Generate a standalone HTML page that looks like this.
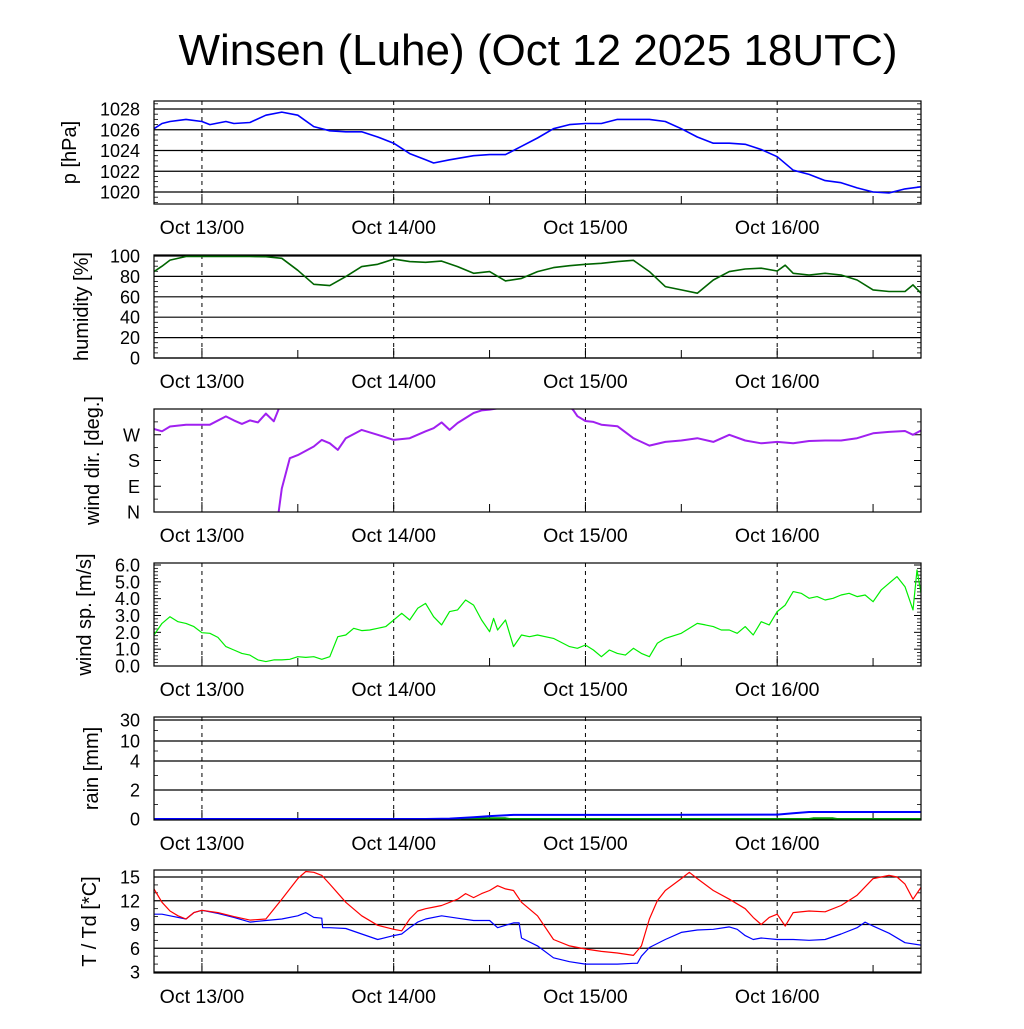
<!DOCTYPE html>
<html><head><meta charset="utf-8"><style>
body{margin:0;background:#fff;}
svg text{font-family:"Liberation Sans",sans-serif;}
</style></head><body>
<svg id="c" width="1024" height="1024" viewBox="0 0 1024 1024" xmlns="http://www.w3.org/2000/svg">
<text x="538" y="65" font-size="44" text-anchor="middle">Winsen (Luhe) (Oct 12 2025 18UTC)</text>
</svg>
<script>
// hours since Oct 12 18UTC
const dayTicks=[6,30,54,78];
const dayLabels=["Oct 13/00","Oct 14/00","Oct 15/00","Oct 16/00"];
const pH=[0,1,2,4,6,7,9,10,12,14,16,18,20,22,24,26,28,30,32,34,35,37,40,42,44,46,48,50,52,54,56,58,60,62,64,66,68,70,72,74,76,78,80,82,84,86,88,90,92,94,96];
const pV=[1026.1,1026.6,1026.8,1027.0,1026.8,1026.5,1026.8,1026.6,1026.7,1027.4,1027.7,1027.4,1026.3,1025.9,1025.8,1025.8,1025.3,1024.7,1023.7,1023.1,1022.8,1023.1,1023.5,1023.6,1023.6,1024.4,1025.2,1026.1,1026.5,1026.6,1026.6,1027.0,1027.0,1027.0,1026.8,1026.1,1025.3,1024.7,1024.7,1024.6,1024.1,1023.4,1022.1,1021.7,1021.1,1020.9,1020.4,1020.0,1019.9,1020.3,1020.5];
const rhH=[0,1,2,4,6,8,10,12,14,16,18,20,22,24,26,28,30,32,34,36,38,40,42,44,46,48,50,52,54,56,58,60,62,64,66,68,70,72,74,76,78,79,80,82,84,86,88,90,92,94,95,96];
const rhV=[84.7,90,96,99.5,99.6,99.6,99.6,99.5,99.3,97.7,86,72.3,71,79.8,89.6,91.9,97,94.5,93.8,95,89.6,83,84.7,75.6,78,84.7,88.6,90.5,91.9,92.8,94.5,95.8,84.7,70,66.8,63.5,76.5,84.7,87.3,88,85.3,91,83,81.4,83,81.4,76.5,66.8,65.2,65.2,71.7,63.5];
const ddH=[0,1,2,4,6,7,9,10,11,12,13,14,15,15.6,16,17,18,20,21,22,23,24,26,28,30,32,34,35,36,37,38,40,41,42,43,45,46.5,49,51,52,52.5,53,54,55,56,58,60,62,64,66,68,70,72,74,76,78,80,82,84,86,88,90,92,94,95,96];
const ddV=[290,282,299,305,305,305,334,320,308,320,313,344,317,359,82,188,199,229,252,240,217,258,287,270,252,258,282,293,313,287,311,346,355,358,2,17,12,35,37,10,355,335,318,315,305,300,258,232,245,250,258,245,270,250,240,245,240,248,250,250,258,275,280,283,270,285];
const ffH=[0,1,2,3,4,5,6,7,8,9,10,11,12,13,14,15,16,17,18,19,20,21,22,23,24,25,26,27,28,29,30,31,32,33,34,35,36,37,38,39,40,41,42,42.5,43,44,45,46,47,48,50,52,53,54,55,56,57,58,59,60,61,62,63,64,66,68,69,70,71,72,73,74,75,76,77,78,79,80,81,82,83,84,85,86,87,88,89,90,91,92,93,94,95,95.5,96];
const ffV=[1.84,2.53,2.93,2.63,2.53,2.34,1.98,1.94,1.70,1.15,0.95,0.75,0.65,0.36,0.26,0.36,0.36,0.40,0.55,0.51,0.55,0.40,0.55,1.74,1.84,2.24,2.10,2.14,2.24,2.34,2.73,3.13,2.73,3.43,3.72,2.93,2.44,3.23,3.33,3.92,3.62,2.73,2.04,2.83,2.14,2.73,1.15,1.84,1.74,1.84,1.64,1.15,1.05,1.25,0.95,0.55,0.95,0.75,0.65,1.05,0.75,0.55,1.35,1.64,1.94,2.53,2.44,2.34,2.14,2.14,1.94,2.34,1.84,2.63,2.44,3.23,3.62,4.42,4.32,4.02,4.12,3.92,4.02,4.22,4.32,4.12,4.22,3.82,4.51,4.91,5.31,4.71,3.33,5.70,4.32];
const rainH=[0,34,37,40,42,45,60,78,80,82,96];
const rainSum=[0,0,0.03,0.12,0.2,0.28,0.28,0.3,0.4,0.48,0.48];
const rain1H=[0,38,38.5,44,44.5,82,82.5,85,85.5,96];
const rain1V=[0,0,0.05,0.05,0,0,0.05,0.05,0,0];
const tH=[0,1,2,3,4,5,6,8,10,12,14,16,18,19,20,21,22,24,26,28,30,31,32,33,34,35,36,38,39,40,41,42,43,44,45,46,48,50,52,54,56,58,60,61,62,63,64,66,67,68,70,72,74,75,76,77,78,79,80,82,84,86,88,90,92,93,94,95,96];
const tV=[13.5,11.8,10.7,10.1,9.7,10.5,10.8,10.5,10.0,9.55,9.7,12.2,14.8,15.7,15.6,15.2,14.1,11.8,10.1,8.9,8.4,8.2,9.7,10.7,11.0,11.2,11.4,12.2,12.9,12.4,12.9,13.3,13.9,13.5,13.3,11.8,10.1,7.1,6.3,5.9,5.6,5.4,5.1,6.3,9.7,12.0,13.3,14.8,15.6,14.8,13.3,12.2,11.0,9.9,9.0,9.9,10.3,8.8,10.5,10.7,10.6,11.4,12.7,14.8,15.2,15.0,14.1,12.2,13.7];
const tdH=[0,1,2,4,5,6,8,10,12,14,16,18,19,20,21,21.1,22,24,26,28,30,31,32,33,34,36,38,40,42,43,44,45,45.7,46,48,50,52,54,56,58,60,60.5,61,62,64,66,68,70,72,73,74,75,76,78,80,82,84,86,88,89,90,92,94,96];
const tdV=[10.3,10.3,10.1,9.7,10.5,10.8,10.4,9.9,9.3,9.5,9.7,10.1,10.5,9.9,9.8,8.6,8.6,8.5,7.8,7.1,7.6,7.8,8.6,9.3,9.7,10.1,9.8,9.5,9.5,8.6,8.9,9.2,9.2,7.3,6.3,4.8,4.3,4.0,4.0,4.0,4.1,4.1,5.0,6.1,7.1,8.0,8.3,8.4,8.7,8.4,7.6,7.1,7.3,7.1,7.1,7.0,7.1,7.8,8.6,9.3,8.8,7.9,6.7,6.4];

const NS="http://www.w3.org/2000/svg";
const svg=document.getElementById('c');
const X0=154,X1=921;
function xs(h){return X0+(X1-X0)*h/96;}
function mk(tag,attrs,parent){const e=document.createElementNS(NS,tag);for(const k in attrs)e.setAttribute(k,attrs[k]);(parent||svg).appendChild(e);return e;}
function lin(d0,d1,r0,r1){return v=>r0+(v-d0)*(r1-r0)/(d1-d0);}

const panels=[
 {name:'pressure',top:101,bot:204,title:'p [hPa]',tx:76,y:lin(1020,1028,192,109),ticks:[1020,1022,1024,1026,1028],labels:['1020','1022','1024','1026','1028'],grid:true,minor:[1019,1019.5,1020.5,1021,1021.5,1022.5,1023,1023.5,1024.5,1025,1025.5,1026.5,1027,1027.5,1028.5]},
 {name:'humidity',top:255,bot:358,title:'humidity [%]',tx:88,y:lin(0,100,358,256),ticks:[0,20,40,60,80,100],labels:['0','20','40','60','80','100'],grid:true,minor:[5,10,15,25,30,35,45,50,55,65,70,75,85,90,95]},
 {name:'wind-direction',top:409,bot:512,title:'wind dir. [deg.]',tx:99,y:lin(0,360,512,409),ticks:[0,90,180,270],labels:['N','E','S','W'],grid:false,minor:[45,135,225,315]},
 {name:'wind-speed',top:563,bot:666,title:'wind sp. [m/s]',tx:91,y:lin(0,6,666,565),ticks:[0,1,2,3,4,5,6],labels:['0.0','1.0','2.0','3.0','4.0','5.0','6.0'],grid:false,minor:[0.2,0.4,0.6,0.8,1.2,1.4,1.6,1.8,2.2,2.4,2.6,2.8,3.2,3.4,3.6,3.8,4.2,4.4,4.6,4.8,5.2,5.4,5.6,5.8]},
 {name:'rain',top:717,bot:820,title:'rain [mm]',tx:98,y:v=>{const d=[0,2,4,10,30],r=[819,790,761,741,720];for(let i=1;i<d.length;i++)if(v<=d[i])return r[i-1]+(v-d[i-1])*(r[i]-r[i-1])/(d[i]-d[i-1]);return 720;},ticks:[0,2,4,10,30],labels:['0','2','4','10','30'],grid:true,minor:[1,3,7,20]},
 {name:'temperature',top:870,bot:973,title:'T / Td [*C]',tx:96,y:lin(3,15,972,877),ticks:[3,6,9,12,15],labels:['3','6','9','12','15'],grid:true,minor:[4,5,7,8,10,11,13,14]}
];

panels.forEach((p,pi)=>{
 const g=mk('g',{});
 
 
 p.ticks.forEach((t,i)=>{
  const yy=p.y(t);
  if(p.grid){const l=mk('line',{x1:X0,x2:X1,y1:yy,y2:yy,stroke:'#000','stroke-width':1.2},g);
   }
  else{mk('line',{x1:X0,x2:X0+7,y1:yy,y2:yy,stroke:'#000','stroke-width':1},g);mk('line',{x1:X1-7,x2:X1,y1:yy,y2:yy,stroke:'#000','stroke-width':1},g);}
  const tx=mk('text',{x:140,y:yy+6.5,'font-size':18,'text-anchor':'end'},g);
  tx.textContent=p.labels[i];
  
 });
 p.minor.forEach(t=>{const yy=p.y(t);
  mk('line',{x1:X0,x2:X0+4,y1:yy,y2:yy,stroke:'#000','stroke-width':0.8},g);
  mk('line',{x1:X1-4,x2:X1,y1:yy,y2:yy,stroke:'#000','stroke-width':0.8},g);});
 for(let h=18;h<96;h+=24){const xx=xs(h);mk('line',{x1:xx,x2:xx,y1:p.bot-8,y2:p.bot,stroke:'#000','stroke-width':1},g);}
 dayTicks.forEach((h,i)=>{const xx=xs(h);
  const l=mk('line',{x1:xx,x2:xx,y1:p.top,y2:p.bot,stroke:'#000','stroke-width':1,'stroke-dasharray':'4,4'},g);
  
  mk('line',{x1:xx,x2:xx,y1:p.bot-10,y2:p.bot,stroke:'#000','stroke-width':1},g);
  const tx=mk('text',{x:xx,y:p.bot+30,'font-size':19.5,'text-anchor':'middle'},g);
  tx.textContent=dayLabels[i];
  
 });
 const ty=(p.top+p.bot)/2;
 const tt=mk('text',{x:p.tx,y:ty,'font-size':20,'text-anchor':'middle',transform:`rotate(-90 ${p.tx} ${ty})`},g);
 tt.textContent=p.title;
 
 const cp=mk('clipPath',{id:'clip'+pi},g);
 mk('rect',{x:X0,y:p.top,width:X1-X0,height:p.bot-p.top},cp);
 p.g=mk('g',{'clip-path':`url(#clip${pi})`},g);
 const fr=mk('rect',{x:X0,y:p.top,width:X1-X0,height:p.bot-p.top,fill:'none',stroke:'#000','stroke-width':1.2},g);
 
});

function line(p,H,V,color,w,name,off){
 const pts=H.map((h,i)=>xs(h).toFixed(1)+','+p.y(V[i]+(off||0)).toFixed(1)).join(' ');
 const l=mk('polyline',{points:pts,fill:'none',stroke:color,'stroke-width':w,'stroke-linejoin':'round'},p.g);
 
 
}
line(panels[0],pH,pV,'#0000ff',1.6,'pressure-line');
line(panels[1],rhH,rhV,'#006400',1.6,'humidity-line');
const ddU=[];ddV.forEach((v,i)=>{if(i===0){ddU.push(v);return;}let u=v;const prev=ddU[i-1];while(u-prev>180)u-=360;while(prev-u>180)u+=360;ddU.push(u);});
[-360,0,360].forEach(o=>line(panels[2],ddH,ddU,'#a020f0',2,'wind-direction-line',o));
line(panels[3],ffH,ffV,'#00ee00',1.2,'wind-speed-line');
line(panels[4],rain1H,rain1V,'#009900',2,'hourly-rain-line');
line(panels[4],rainH,rainSum,'#0000ff',2,'rain-sum-line');
line(panels[5],tdH,tdV,'#0000ff',1.2,'dewpoint-line');
line(panels[5],tH,tV,'#ff0000',1.2,'temperature-line');
</script>
</body></html>
